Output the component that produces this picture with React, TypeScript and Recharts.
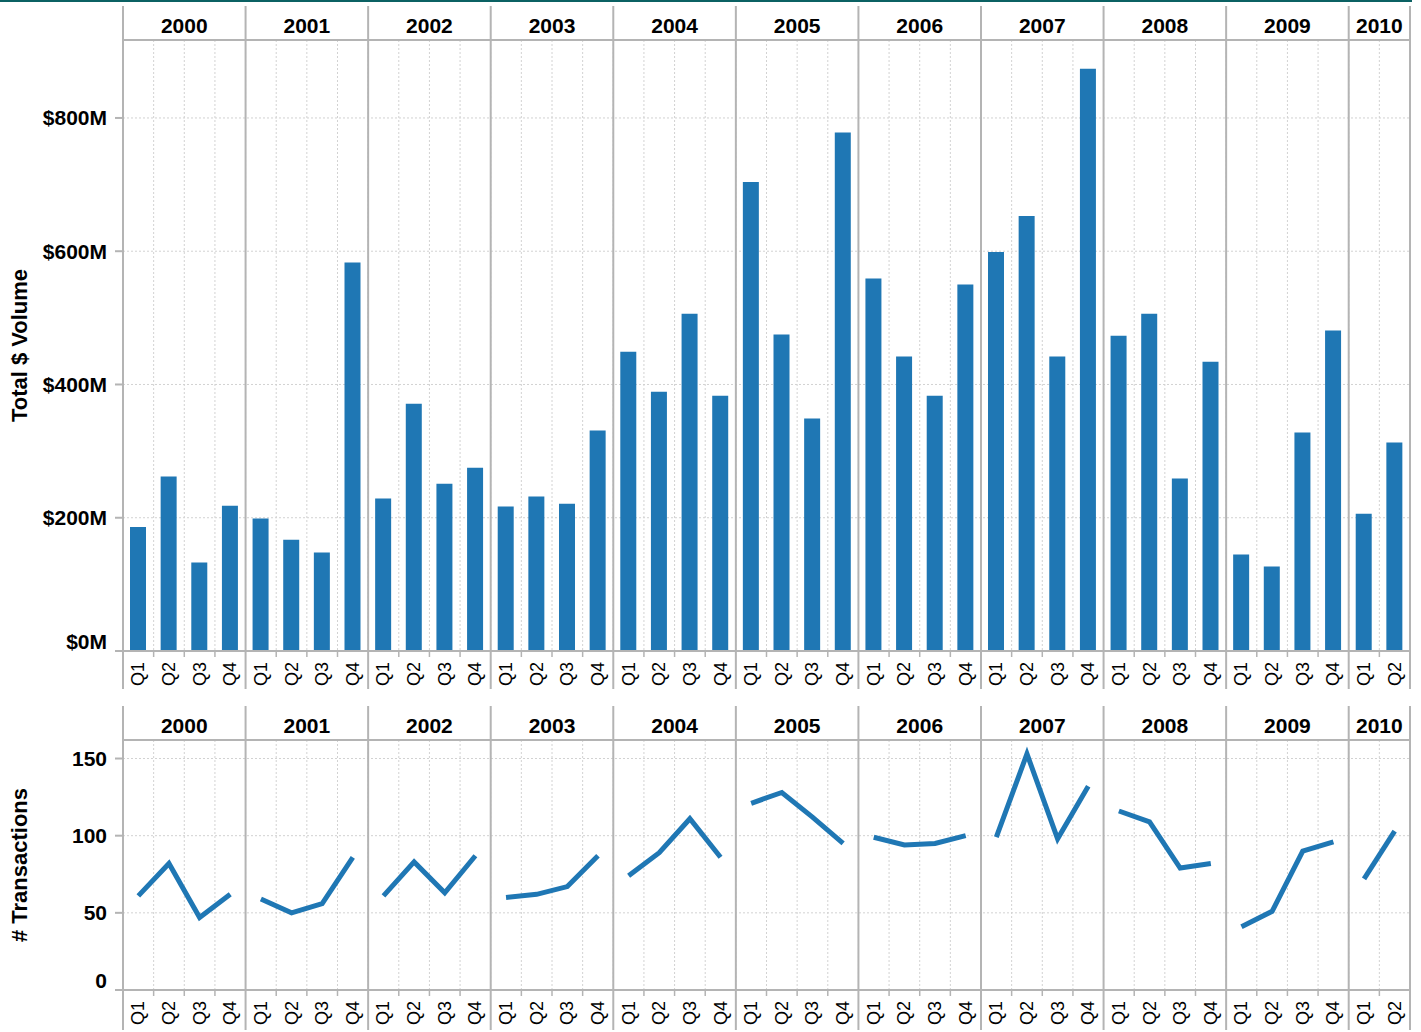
import React from 'react';
import {
  ComposedChart, Bar, Line, XAxis, YAxis, CartesianGrid, ReferenceLine,
} from 'recharts';

const YEARS = ['2000', '2001', '2002', '2003', '2004', '2005', '2006', '2007', '2008', '2009', '2010'];
const QUARTERS = ['Q1', 'Q2', 'Q3', 'Q4'];
// 2010 only has the first two quarters
const QUARTERS_PER_YEAR = [4, 4, 4, 4, 4, 4, 4, 4, 4, 4, 2];

// Total $ volume in millions, one value per quarter
const VOLUME = [
  186, 262, 133, 218, // 2000
  199, 167, 148, 583, // 2001
  229, 371, 251, 275, // 2002
  217, 232, 221, 331, // 2003
  449, 389, 506, 383, // 2004
  704, 475, 349, 778, // 2005
  559, 442, 383, 550, // 2006
  599, 653, 442, 874, // 2007
  473, 506, 259, 434, // 2008
  145, 127, 328, 481, // 2009
  206, 313,           // 2010
];

// number of transactions per quarter
const TRANSACTIONS = [
  61, 82, 47, 62,
  59, 50, 56, 86,
  61, 83, 63, 87,
  60, 62, 67, 87,
  74, 89, 111, 86,
  121, 128, 112, 95,
  99, 94, 95, 100,
  99, 153, 98, 132,
  116, 109, 79, 82,
  41, 51, 90, 96,
  72, 103,
];

const VOLUME_TICKS = [0, 200, 400, 600, 800];
const TX_TICKS = [0, 50, 100, 150];

const BLUE = '#1f77b4';
const RULE = '#b4b4b4';
const GRID = '#d2d2d2';
const FONT = '"Liberation Sans", Arial, Helvetica, sans-serif';

// one row per quarter, x is the quarter's slot on a 0..N number axis
const rows: any[] = [];
YEARS.forEach((year, yi) => {
  for (let q = 0; q < QUARTERS_PER_YEAR[yi]; q++) {
    const i = rows.length;
    rows.push({
      x: i + 0.5,
      year,
      quarter: QUARTERS[q],
      volume: VOLUME[i],
      [`tx${year}`]: TRANSACTIONS[i],
    });
  }
});
const N = rows.length;

const quarterCenters = rows.map((r) => r.x);
const boundaries = Array.from({ length: N + 1 }, (_, i) => i);
const yearStarts = new Set<number>([N]);
rows.forEach((r, i) => {
  if (i === 0 || rows[i - 1].year !== r.year) yearStarts.add(i);
});
const yearCenters = YEARS.map((year) => {
  const xs = rows.filter((r) => r.year === year).map((r) => r.x);
  return xs.reduce((a, b) => a + b, 0) / xs.length;
});

function YearTick({ x, y, payload }: any) {
  const idx = yearCenters.indexOf(payload.value);
  return (
    <text x={x} y={y} textAnchor="middle" fontFamily={FONT} fontSize={21} fontWeight="bold" fill="#000">
      {YEARS[idx]}
    </text>
  );
}

function QuarterTick({ x, y, payload }: any) {
  const row = rows.find((r) => r.x === payload.value);
  return (
    <text
      x={x}
      y={y}
      transform={`rotate(-90 ${x} ${y})`}
      textAnchor="end"
      dominantBaseline="central"
      fontFamily={FONT}
      fontSize={18}
      fill="#000"
    >
      {row ? row.quarter : ''}
    </text>
  );
}

// zero label is nudged up so it sits inside the panel, like the original
const makeValueTick = (fmt: (v: number) => string) => ({ x, y, payload }: any) => (
  <text
    x={x}
    y={payload.value === 0 ? y - 10 : y}
    textAnchor="end"
    dominantBaseline="central"
    fontFamily={FONT}
    fontSize={21}
    fontWeight="bold"
    fill="#000"
  >
    {fmt(payload.value)}
  </text>
);

function AxisTitle(props: any) {
  const { viewBox, text } = props;
  if (!viewBox) return null;
  const cx = viewBox.x + 19;
  const cy = viewBox.y + viewBox.height / 2;
  return (
    <text
      x={cx}
      y={cy}
      transform={`rotate(-90 ${cx} ${cy})`}
      textAnchor="middle"
      dominantBaseline="central"
      fontFamily={FONT}
      fontSize={22}
      fontWeight="bold"
      fill="#000"
    >
      {text}
    </text>
  );
}

// year separators run through header and labels, quarter boundaries get a short tick
const boundaryShape = (isYear: boolean, head: number, foot: number) => (props: any) => {
  const { x1, x2, y1, y2 } = props;
  const top = Math.min(y1, y2);
  const bottom = Math.max(y1, y2);
  if (isYear) {
    return <line x1={x1} x2={x2} y1={top - head} y2={bottom + foot} stroke={RULE} strokeWidth={2} />;
  }
  return <line x1={x1} x2={x2} y1={bottom} y2={bottom + 6} stroke={RULE} strokeWidth={1.5} />;
};

export default function App() {
  return (
    <div style={{ position: 'absolute', left: 0, top: 0, width: 1421, height: 1032, background: '#fff' }}>
      <div style={{ position: 'absolute', left: 0, top: 0, width: 1412, height: 2, background: '#0b6163' }} />

      {/* Total $ Volume */}
      <ComposedChart width={1421} height={700} data={rows} margin={{ top: 6, right: 11, bottom: 0, left: 0 }}>
        <CartesianGrid xAxisId="bnd" stroke={GRID} strokeDasharray="2 2" />
        <XAxis xAxisId="bnd" type="number" dataKey="x" domain={[0, N]} ticks={boundaries} interval={0} height={0} hide />
        <XAxis
          xAxisId="yr" orientation="top" type="number" dataKey="x" domain={[0, N]}
          ticks={yearCenters} interval={0} height={34} tickSize={0} tickMargin={7} tickLine={false}
          axisLine={{ stroke: RULE, strokeWidth: 2 }} tick={<YearTick />}
        />
        <XAxis
          xAxisId="q" type="number" dataKey="x" domain={[0, N]}
          ticks={quarterCenters} interval={0} height={49} tickSize={0} tickMargin={11} tickLine={false}
          axisLine={{ stroke: RULE, strokeWidth: 2 }} tick={<QuarterTick />}
        />
        <YAxis
          type="number" domain={[0, 917]} ticks={VOLUME_TICKS} interval={0} width={123}
          tickSize={8} tickMargin={8} tickLine={{ stroke: RULE, strokeWidth: 2 }} axisLine={false}
          tick={makeValueTick((v) => `$${v}M`)}
          label={<AxisTitle text="Total $ Volume" />}
        />
        {boundaries.map((b) => (
          <ReferenceLine key={b} xAxisId="q" x={b} shape={boundaryShape(yearStarts.has(b), 34, 38)} />
        ))}
        <Bar xAxisId="q" dataKey="volume" fill={BLUE} barSize={16} isAnimationActive={false} />
      </ComposedChart>

      {/* # Transactions */}
      <ComposedChart width={1421} height={332} data={rows} margin={{ top: 6, right: 11, bottom: 0, left: 0 }}>
        <CartesianGrid xAxisId="bnd" stroke={GRID} strokeDasharray="2 2" />
        <XAxis xAxisId="bnd" type="number" dataKey="x" domain={[0, N]} ticks={boundaries} interval={0} height={0} hide />
        <XAxis
          xAxisId="yr" orientation="top" type="number" dataKey="x" domain={[0, N]}
          ticks={yearCenters} interval={0} height={34} tickSize={0} tickMargin={7} tickLine={false}
          axisLine={{ stroke: RULE, strokeWidth: 2 }} tick={<YearTick />}
        />
        <XAxis
          xAxisId="q" type="number" dataKey="x" domain={[0, N]}
          ticks={quarterCenters} interval={0} height={42} tickSize={0} tickMargin={11} tickLine={false}
          axisLine={{ stroke: RULE, strokeWidth: 2 }} tick={<QuarterTick />}
        />
        <YAxis
          type="number" domain={[0, 162]} ticks={TX_TICKS} interval={0} width={123}
          tickSize={8} tickMargin={8} tickLine={{ stroke: RULE, strokeWidth: 2 }} axisLine={false}
          tick={makeValueTick((v) => `${v}`)}
          label={<AxisTitle text="# Transactions" />}
        />
        {boundaries.map((b) => (
          <ReferenceLine key={b} xAxisId="q" x={b} shape={boundaryShape(yearStarts.has(b), 34, 40)} />
        ))}
        {YEARS.map((year) => (
          <Line
            key={year}
            xAxisId="q"
            type="linear"
            dataKey={`tx${year}`}
            stroke={BLUE}
            strokeWidth={5}
            dot={false}
            connectNulls={false}
            isAnimationActive={false}
          />
        ))}
      </ComposedChart>
    </div>
  );
}
